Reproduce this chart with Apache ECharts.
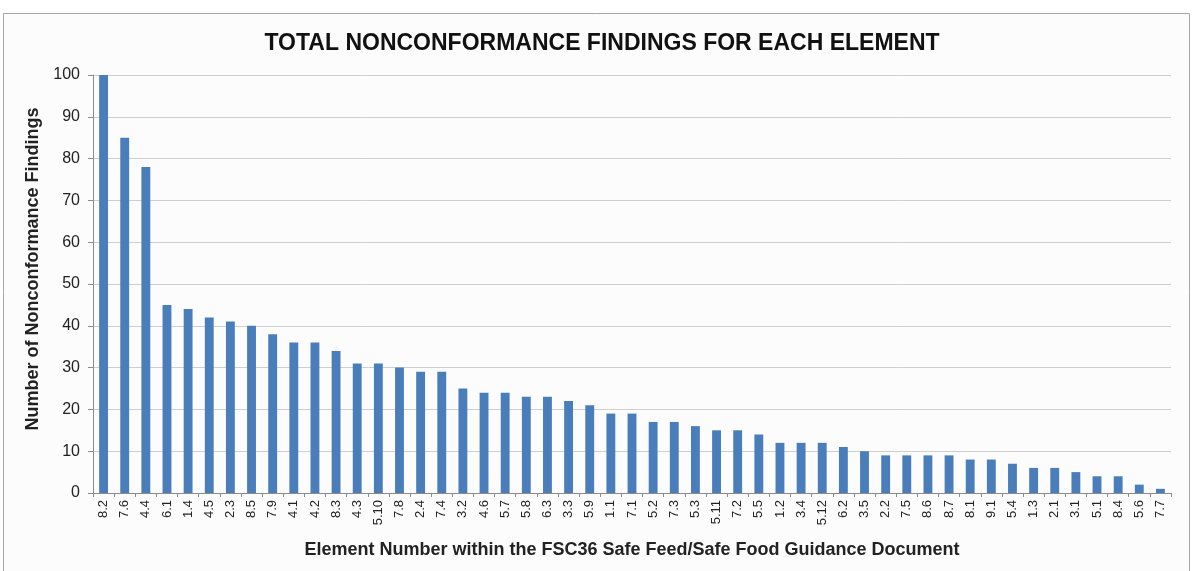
<!DOCTYPE html>
<html>
<head>
<meta charset="utf-8">
<script src="https://cdn.jsdelivr.net/npm/echarts@6/dist/echarts.min.js"></script>
<style>
html,body{margin:0;padding:0;background:#ffffff;}
#chart{width:1193px;height:571px;}
</style>
</head>
<body>
<div id="chart"></div>
<script>
const categories = ['8.2','7.6','4.4','6.1','1.4','4.5','2.3','8.5','7.9','4.1','4.2','8.3','4.3','5.10','7.8','2.4','7.4','3.2','4.6','5.7','5.8','6.3','3.3','5.9','1.1','7.1','5.2','7.3','5.3','5.11','7.2','5.5','1.2','3.4','5.12','6.2','3.5','2.2','7.5','8.6','8.7','8.1','9.1','5.4','1.3','2.1','3.1','5.1','8.4','5.6','7.7'];
const findings = [100,85,78,45,44,42,41,40,38,36,36,34,31,31,30,29,29,25,24,24,23,23,22,21,19,19,17,17,16,15,15,14,12,12,12,11,10,9,9,9,9,8,8,7,6,6,5,4,4,2,1];
const yTicks = [0,10,20,30,40,50,60,70,80,90,100];

const chart = echarts.init(document.getElementById('chart'));
chart.setOption({
  animation: false,
  graphic: [{
    type: 'rect', z: -10, silent: true,
    shape: {x: 3.5, y: 13.5, width: 1186, height: 600},
    style: {fill: '#fcfcfc', stroke: '#a6a6a6', lineWidth: 1}
  }],
  title: {
    text: 'TOTAL NONCONFORMANCE FINDINGS FOR EACH ELEMENT',
    left: 597, top: 27, textAlign: 'center',
    textStyle: {fontFamily: '"Liberation Sans", Arial', fontWeight: 'bold', fontSize: 23, color: '#111'}
  },
  grid: {left: 93, right: 22, top: 75, bottom: 78},
  xAxis: {
    type: 'category',
    data: categories,
    name: 'Element Number within the FSC36 Safe Feed/Safe Food Guidance Document',
    nameLocation: 'middle', nameGap: 48,
    nameTextStyle: {fontFamily: '"Liberation Sans", Arial', fontWeight: 'bold', fontSize: 18, color: '#222'},
    axisLine: {lineStyle: {color: '#8c8c8c'}},
    axisTick: {show: true, length: 4, lineStyle: {color: '#8c8c8c'}},
    axisLabel: {rotate: 90, interval: 0, fontFamily: '"Liberation Sans", Arial', fontSize: 13, color: '#222', margin: 7}
  },
  yAxis: {
    type: 'value', min: 0, max: 100, interval: 10,
    name: 'Number of Nonconformance Findings',
    nameLocation: 'middle', nameGap: 50,
    nameTextStyle: {fontFamily: '"Liberation Sans", Arial', fontWeight: 'bold', fontSize: 18, color: '#222', padding: [0, 0, 0, 30]},
    axisLine: {show: true, lineStyle: {color: '#8c8c8c'}},
    axisTick: {show: true, length: 5, lineStyle: {color: '#8c8c8c'}},
    axisLabel: {fontFamily: '"Liberation Sans", Arial', fontSize: 16, color: '#222', margin: 13,
      formatter: v => yTicks.includes(v) ? String(v) : ''},
    splitLine: {lineStyle: {color: '#cfcfcf', width: 1}}
  },
  series: [{
    type: 'bar',
    data: findings,
    barWidth: '42%',
    itemStyle: {color: '#4a7ebb'}
  }]
});
</script>
</body>
</html>
